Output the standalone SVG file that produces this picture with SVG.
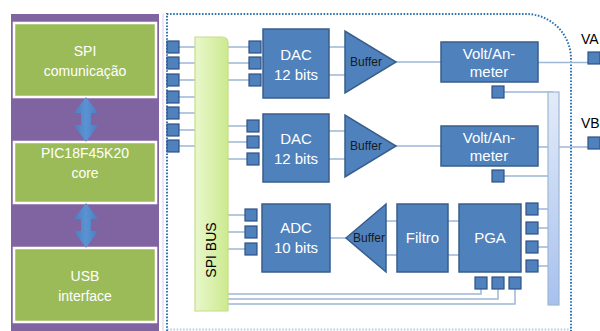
<svg xmlns="http://www.w3.org/2000/svg" width="600" height="331" viewBox="0 0 600 331">
<defs>
<linearGradient id="busg" x1="0" y1="0" x2="1" y2="0"><stop offset="0" stop-color="#E9F7CC"/><stop offset="1" stop-color="#CDEA8E"/></linearGradient>
<linearGradient id="barg" x1="0" y1="0" x2="0" y2="1"><stop offset="0" stop-color="#E3EBF8"/><stop offset="1" stop-color="#A7C1EE"/></linearGradient>
<linearGradient id="arrg" x1="0" y1="0" x2="1" y2="0"><stop offset="0" stop-color="#4A7EC0"/><stop offset="0.5" stop-color="#5A93D3"/><stop offset="1" stop-color="#4A7EC0"/></linearGradient>
</defs>
<style>
.g{fill:#9BBB59;stroke:#FFFFFF;stroke-width:2.5}
.b{fill:#4F81BD;stroke:#385D8A;stroke-width:1.5}
.sq{fill:#4F81BD;stroke:#2F5285;stroke-width:1.2}
.ln{fill:none;stroke:#9DB7D6;stroke-width:1.5}
.wt{font-family:"Liberation Sans",Arial,sans-serif;font-size:14px;fill:#FFFFFF;text-anchor:middle}
.wb{font-family:"Liberation Sans",Arial,sans-serif;font-size:15px;fill:#FFFFFF;text-anchor:middle}
.bk{font-family:"Liberation Sans",Arial,sans-serif;font-size:12px;fill:#1A1A1A;text-anchor:middle}
.lbl{font-family:"Liberation Sans",Arial,sans-serif;font-size:14px;fill:#000000}
.arr{fill:url(#arrg)}
</style>
<rect width="600" height="331" fill="#FFFFFF"/>
<g id="mcu-panel">
<rect x="11" y="14" width="148" height="320" fill="#8064A2"/>
</g>
<g id="spi-com"><rect class="g" x="14" y="23" width="142" height="74"/><text class="wt" x="85" y="56">SPI</text><text class="wt" x="85" y="76">comunicação</text></g>
<g id="pic-core"><rect class="g" x="14" y="142" width="142" height="61"/><text class="wt" x="85" y="158">PIC18F45K20</text><text class="wt" x="85" y="178">core</text></g>
<g id="usb"><rect class="g" x="14" y="248" width="142" height="74"/><text class="wt" x="85" y="281">USB</text><text class="wt" x="85" y="301">interface</text></g>
<g id="arrows-left">
<path class="arr" d="M86,97 L98,113 L91,113 L91,125 L98,125 L86,142 L74,125 L81,125 L81,113 L74,113 Z"/>
<path class="arr" d="M86,203 L98,219 L91,219 L91,231 L98,231 L86,248 L74,231 L81,231 L81,219 L74,219 Z"/>
</g>
<g id="board-border">
<line x1="163" y1="14" x2="163" y2="331" stroke="#D9CDE8" stroke-width="1"/>
<path d="M167,331 V14 H526 A45,45 0 0 1 571,59 V331" fill="none" stroke="#2E75B6" stroke-width="2" stroke-dasharray="1.6 1.6"/>
<line x1="167" y1="329.5" x2="571" y2="329.5" stroke="#2E75B6" stroke-opacity="0.35" stroke-width="2" stroke-dasharray="1.6 1.6"/>
</g>
<g id="connectors">
<path class="ln" d="M179,47H195M179,63H195M179,80H195M179,97H195M179,113H195M179,130H195M179,146H195"/>
<path class="ln" d="M228,47H249M228,63H249M228,80H249M228,126H247M228,142H247M228,159H247M228,215H245M228,232H245M228,249H245"/>
<path class="ln" d="M329,47H345M329,75H345M329,131H345M329,159H345"/>
<path class="ln" d="M396,62H441M396,146H441M538,62.5H588M538,147H588"/>
<path class="ln" d="M504,92H553M504,176H553"/>
<path class="ln" d="M330,238H346M386,221H397M386,255H397M448,221H459M448,255H459"/>
<path class="ln" d="M538,209H548M538,228H548M538,247H548M538,266H548"/>
<path class="ln" d="M228,294H481V289M228,299H498V289M228,304H515V289"/>
</g>
<g id="spi-bus">
<path d="M195,37 H222 Q228,37 228,43 V311 H195 Z" fill="url(#busg)" stroke="#C5DC8E" stroke-width="1.2"/>
<text class="lbl" transform="translate(216,250) rotate(-90)" text-anchor="middle">SPI BUS</text>
</g>
<g id="right-bar"><rect x="548" y="92" width="11" height="213" fill="url(#barg)" stroke="#9DB7D6" stroke-width="1.2"/></g>
<g id="pins-left">
<rect class="sq" x="167" y="41" width="12" height="12"/><rect class="sq" x="167" y="57" width="12" height="12"/><rect class="sq" x="167" y="74" width="12" height="12"/><rect class="sq" x="167" y="91" width="12" height="12"/><rect class="sq" x="167" y="107" width="12" height="12"/><rect class="sq" x="167" y="124" width="12" height="12"/><rect class="sq" x="167" y="140" width="12" height="12"/>
</g>
<g id="dac1"><rect class="sq" x="249" y="41" width="12" height="12"/><rect class="sq" x="249" y="57" width="12" height="12"/><rect class="sq" x="249" y="74" width="12" height="12"/><rect class="b" x="263" y="29" width="66" height="69"/><text class="wb" x="296" y="60">DAC</text><text class="wb" x="296" y="80">12 bits</text></g>
<g id="dac2"><rect class="sq" x="247" y="120" width="12" height="12"/><rect class="sq" x="247" y="136" width="12" height="12"/><rect class="sq" x="247" y="153" width="12" height="12"/><rect class="b" x="263" y="114" width="66" height="68"/><text class="wb" x="296" y="144">DAC</text><text class="wb" x="296" y="164">12 bits</text></g>
<g id="buffer1"><polygon class="b" points="345,31 345,93 396,62"/><text class="bk" x="366" y="66">Buffer</text></g>
<g id="buffer2"><polygon class="b" points="345,115 345,177 396,146"/><text class="bk" x="366" y="150">Buffer</text></g>
<g id="meter1"><rect class="b" x="441" y="42" width="97" height="40"/><text class="wb" x="489" y="59">Volt/An-</text><text class="wb" x="489" y="77">meter</text><rect class="sq" x="492" y="86" width="12" height="12"/></g>
<g id="meter2"><rect class="b" x="441" y="126" width="97" height="40"/><text class="wb" x="489" y="143">Volt/An-</text><text class="wb" x="489" y="161">meter</text><rect class="sq" x="492" y="170" width="12" height="12"/></g>
<g id="va"><rect class="sq" x="588" y="52" width="12" height="12"/><text class="lbl" x="581" y="44">VA</text></g>
<g id="vb"><rect class="sq" x="588" y="137" width="12" height="12"/><text class="lbl" x="581" y="128">VB</text></g>
<g id="adc"><rect class="sq" x="245" y="209" width="12" height="12"/><rect class="sq" x="245" y="226" width="12" height="12"/><rect class="sq" x="245" y="243" width="12" height="12"/><rect class="b" x="262" y="204" width="68" height="68"/><text class="wb" x="296" y="233">ADC</text><text class="wb" x="296" y="253">10 bits</text></g>
<g id="buffer3"><polygon class="b" points="346,238 386,204 386,272"/><text class="bk" x="369" y="242">Buffer</text></g>
<g id="filtro"><rect class="b" x="397" y="204" width="51" height="68"/><text class="wb" x="422.5" y="243">Filtro</text></g>
<g id="pga"><rect class="b" x="459" y="204" width="62" height="68"/><text class="wb" x="490" y="243">PGA</text>
<rect class="sq" x="526" y="203" width="12" height="12"/><rect class="sq" x="526" y="222" width="12" height="12"/><rect class="sq" x="526" y="241" width="12" height="12"/><rect class="sq" x="526" y="260" width="12" height="12"/>
<rect class="sq" x="475" y="277" width="12" height="12"/><rect class="sq" x="492" y="277" width="12" height="12"/><rect class="sq" x="509" y="277" width="12" height="12"/></g>
</svg>
